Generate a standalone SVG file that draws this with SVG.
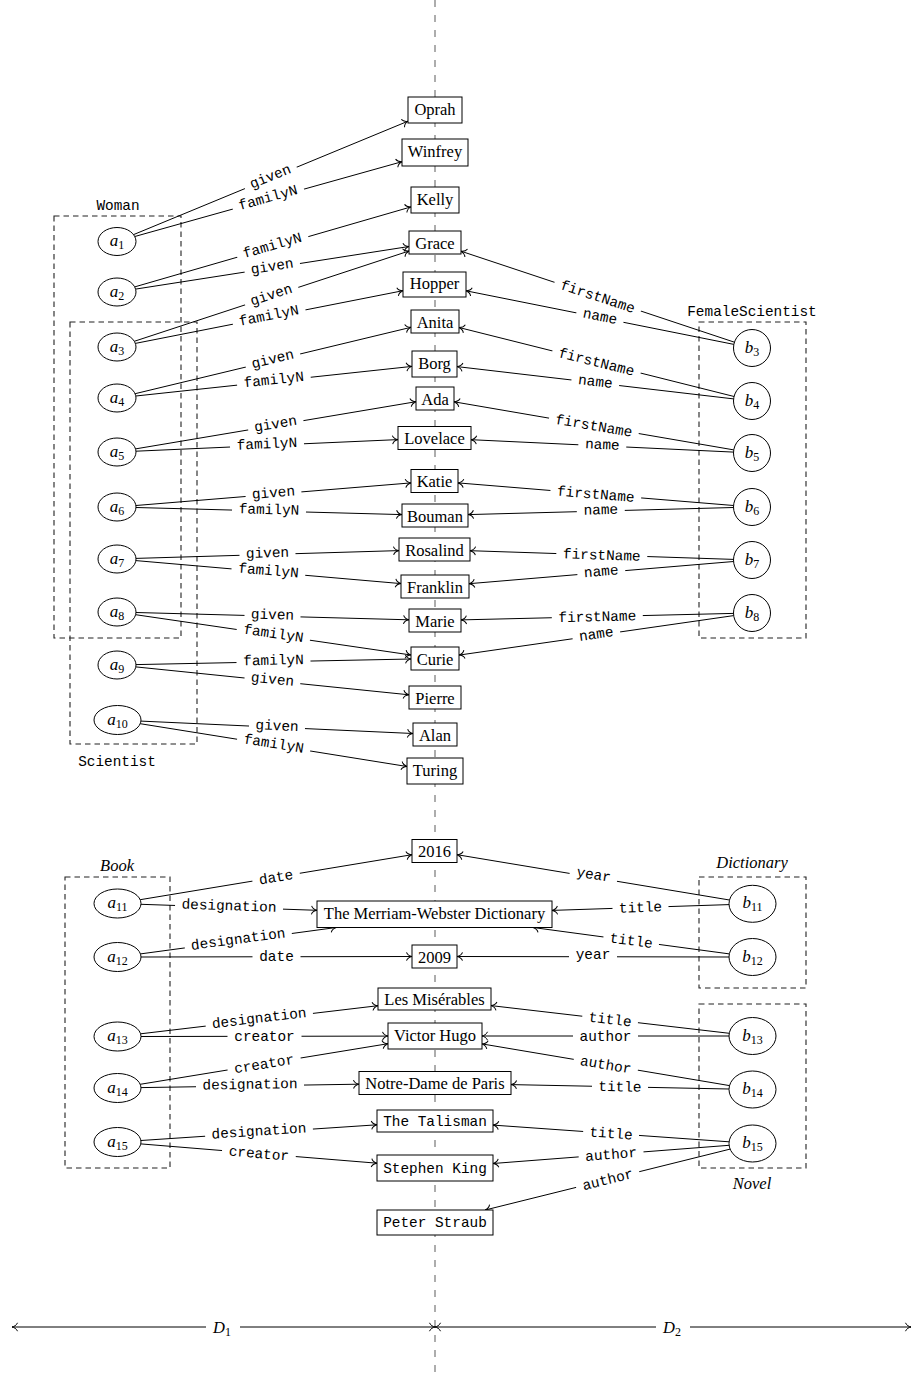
<svg xmlns="http://www.w3.org/2000/svg" width="914" height="1380" viewBox="0 0 914 1380">
<defs>
<marker id="to" viewBox="-8 -6 10 12" refX="0" refY="0" markerWidth="10" markerHeight="12" markerUnits="userSpaceOnUse" orient="auto-start-reverse">
<path d="M-5.5,-4.2 C-4.6,-1.6 -1.8,-0.4 0,0 C-1.8,0.4 -4.6,1.6 -5.5,4.2" fill="none" stroke="#000" stroke-width="1"/>
</marker>
<style>
.bx rect{fill:#fff;stroke:#000;stroke-width:1}
.bx text{font-family:"Liberation Serif",serif;font-size:16.5px;text-anchor:middle;fill:#000}
.bx text.tt{font-family:"Liberation Mono",monospace;font-size:14.4px}
.nd ellipse{fill:#fff;stroke:#000;stroke-width:1}
.nd text{font-family:"Liberation Serif",serif;font-style:italic;font-size:17px;text-anchor:middle}
.s{font-style:normal;font-size:12px}
.ed line{stroke:#000;stroke-width:1;fill:none;marker-end:url(#to)}
.lb rect{fill:#fff}
.lb text{font-family:"Liberation Mono",monospace;font-size:14.4px;text-anchor:middle}
.gr rect{fill:none;stroke:#222;stroke-width:1.1;stroke-dasharray:5.5 4}
.gr text{font-family:"Liberation Mono",monospace;font-size:14.4px;text-anchor:middle}
.gr text.it{font-family:"Liberation Serif",serif;font-style:italic;font-size:16.5px}
.axis line{stroke:#000;stroke-width:1;marker-start:url(#to);marker-end:url(#to)}
.axis text{font-family:"Liberation Serif",serif;font-style:italic;font-size:16.5px;text-anchor:middle}
</style>
</defs>
<rect width="914" height="1380" fill="#fff"/>
<line id="divider" x1="435" y1="0" x2="435" y2="1380" stroke="#777" stroke-width="1.2" stroke-dasharray="7 8"/>

<g id="groups" class="gr">
<g id="g-woman"><rect x="54" y="216" width="127" height="422"/><text x="118" y="210">Woman</text></g>
<g id="g-scientist"><rect x="70" y="322" width="127" height="422"/><text x="117" y="766">Scientist</text></g>
<g id="g-femalescientist"><rect x="699" y="322" width="107" height="316"/><text x="752" y="316">FemaleScientist</text></g>
<g id="g-book"><rect x="65" y="877" width="105" height="291"/><text class="it" x="117" y="871">Book</text></g>
<g id="g-dictionary"><rect x="699" y="877" width="107" height="111"/><text class="it" x="752" y="868">Dictionary</text></g>
<g id="g-novel"><rect x="699" y="1004" width="107" height="164"/><text class="it" x="752" y="1189">Novel</text></g>
</g>

<g id="connectors">
<g class="ed">
<line x1="133.6" y1="234.6" x2="408" y2="121.2"/>
<line x1="134.8" y1="236.5" x2="402" y2="161.7"/>
<line x1="134.7" y1="286.9" x2="411" y2="206.9"/>
<line x1="135.6" y1="289.1" x2="409" y2="246.5"/>
<line x1="134.3" y1="341.3" x2="409" y2="251"/>
<line x1="135.4" y1="343.4" x2="403" y2="290.7"/>
<line x1="135.1" y1="393.7" x2="411" y2="327.3"/>
<line x1="135.8" y1="396" x2="412" y2="366.4"/>
<line x1="135.5" y1="448.9" x2="416" y2="401.7"/>
<line x1="136" y1="451.2" x2="398" y2="439.6"/>
<line x1="135.9" y1="505.5" x2="411" y2="482.9"/>
<line x1="136" y1="507.5" x2="402" y2="514.6"/>
<line x1="136" y1="558.4" x2="399" y2="550.6"/>
<line x1="135.9" y1="560.6" x2="401" y2="583.6"/>
<line x1="136" y1="612.5" x2="409" y2="619.8"/>
<line x1="135.6" y1="614.7" x2="411" y2="655"/>
<line x1="136" y1="664.6" x2="411" y2="659"/>
<line x1="135.8" y1="666.9" x2="409" y2="694.8"/>
<line x1="140.9" y1="721.1" x2="413" y2="733.5"/>
<line x1="140.2" y1="723.7" x2="407" y2="766.5"/>
<line x1="734.4" y1="342.2" x2="461" y2="251.2"/>
<line x1="733.9" y1="344.4" x2="466" y2="290.8"/>
<line x1="734.1" y1="396.5" x2="459" y2="327.5"/>
<line x1="733.6" y1="398.9" x2="457" y2="366.6"/>
<line x1="733.8" y1="449.9" x2="454" y2="401.8"/>
<line x1="733.5" y1="452.1" x2="471" y2="439.7"/>
<line x1="733.6" y1="505.5" x2="458" y2="482.9"/>
<line x1="733.5" y1="507.5" x2="468" y2="514.6"/>
<line x1="733.5" y1="559.4" x2="470" y2="550.7"/>
<line x1="733.6" y1="561.5" x2="469" y2="583.7"/>
<line x1="733.5" y1="613.4" x2="461" y2="619.9"/>
<line x1="733.7" y1="615.6" x2="459" y2="655.1"/>
<line x1="140.2" y1="899.7" x2="412" y2="854.7"/>
<line x1="141" y1="904.3" x2="317" y2="910.3"/>
<line x1="140.5" y1="953.9" x2="336.2" y2="927.5"/>
<line x1="141" y1="957" x2="412" y2="956.5"/>
<line x1="140.6" y1="1033.8" x2="378" y2="1005.7"/>
<line x1="141" y1="1036.5" x2="388" y2="1036.1"/>
<line x1="140.2" y1="1084.3" x2="388" y2="1043.7"/>
<line x1="141" y1="1087.6" x2="359" y2="1084.2"/>
<line x1="140.9" y1="1140.5" x2="377" y2="1124.8"/>
<line x1="140.8" y1="1143.9" x2="377" y2="1163.2"/>
<line x1="729.5" y1="900" x2="457" y2="854.7"/>
<line x1="729" y1="904.6" x2="552" y2="910.4"/>
<line x1="729.3" y1="953.9" x2="533.1" y2="927.5"/>
<line x1="729" y1="957" x2="457" y2="956.5"/>
<line x1="729.3" y1="1033.3" x2="491" y2="1005.6"/>
<line x1="729" y1="1036" x2="482" y2="1036"/>
<line x1="729.5" y1="1085.6" x2="482" y2="1043.9"/>
<line x1="729" y1="1089" x2="511" y2="1084.6"/>
<line x1="729.1" y1="1141.8" x2="493" y2="1125.1"/>
<line x1="729.1" y1="1145.3" x2="493" y2="1163.5"/>
<line x1="730.1" y1="1149.1" x2="485.2" y2="1210"/>
</g>
<g class="lb">
<g transform="translate(270.8 177.9) rotate(-22.47)"><rect x="-28" y="-7.5" width="56" height="15"/><text y="2.9">given</text></g>
<g transform="translate(268.4 199.1) rotate(-15.64)"><rect x="-37" y="-7.5" width="74" height="15"/><text y="2.9">familyN</text></g>
<g transform="translate(272.8 246.9) rotate(-16.13)"><rect x="-37" y="-7.5" width="74" height="15"/><text y="2.9">familyN</text></g>
<g transform="translate(272.3 267.8) rotate(-8.85)"><rect x="-28" y="-7.5" width="56" height="15"/><text y="2.9">given</text></g>
<g transform="translate(271.7 296.2) rotate(-18.19)"><rect x="-28" y="-7.5" width="56" height="15"/><text y="2.9">given</text></g>
<g transform="translate(269.2 317.1) rotate(-11.14)"><rect x="-37" y="-7.5" width="74" height="15"/><text y="2.9">familyN</text></g>
<g transform="translate(273 360.5) rotate(-13.53)"><rect x="-28" y="-7.5" width="56" height="15"/><text y="2.9">given</text></g>
<g transform="translate(273.9 381.2) rotate(-6.11)"><rect x="-37" y="-7.5" width="74" height="15"/><text y="2.9">familyN</text></g>
<g transform="translate(275.8 425.3) rotate(-9.55)"><rect x="-28" y="-7.5" width="56" height="15"/><text y="2.9">given</text></g>
<g transform="translate(267 445.4) rotate(-2.52)"><rect x="-37" y="-7.5" width="74" height="15"/><text y="2.9">familyN</text></g>
<g transform="translate(273.5 494.2) rotate(-4.68)"><rect x="-28" y="-7.5" width="56" height="15"/><text y="2.9">given</text></g>
<g transform="translate(269 511.1) rotate(1.53)"><rect x="-37" y="-7.5" width="74" height="15"/><text y="2.9">familyN</text></g>
<g transform="translate(267.5 554.5) rotate(-1.71)"><rect x="-28" y="-7.5" width="56" height="15"/><text y="2.9">given</text></g>
<g transform="translate(268.4 572.1) rotate(4.94)"><rect x="-37" y="-7.5" width="74" height="15"/><text y="2.9">familyN</text></g>
<g transform="translate(272.5 616.2) rotate(1.53)"><rect x="-28" y="-7.5" width="56" height="15"/><text y="2.9">given</text></g>
<g transform="translate(273.3 634.9) rotate(8.32)"><rect x="-37" y="-7.5" width="74" height="15"/><text y="2.9">familyN</text></g>
<g transform="translate(273.5 661.8) rotate(-1.17)"><rect x="-37" y="-7.5" width="74" height="15"/><text y="2.9">familyN</text></g>
<g transform="translate(272.4 680.9) rotate(5.84)"><rect x="-28" y="-7.5" width="56" height="15"/><text y="2.9">given</text></g>
<g transform="translate(277 727.3) rotate(2.61)"><rect x="-28" y="-7.5" width="56" height="15"/><text y="2.9">given</text></g>
<g transform="translate(273.6 745.1) rotate(9.13)"><rect x="-37" y="-7.5" width="74" height="15"/><text y="2.9">familyN</text></g>
<g transform="translate(597.7 296.7) rotate(18.41)"><rect x="-45.5" y="-7.5" width="91" height="15"/><text y="4.5">firstName</text></g>
<g transform="translate(599.9 317.6) rotate(11.31)"><rect x="-24" y="-7.5" width="48" height="15"/><text y="3.2">name</text></g>
<g transform="translate(596.5 362) rotate(14.08)"><rect x="-45.5" y="-7.5" width="91" height="15"/><text y="4.5">firstName</text></g>
<g transform="translate(595.3 382.7) rotate(6.65)"><rect x="-24" y="-7.5" width="48" height="15"/><text y="3.2">name</text></g>
<g transform="translate(593.9 425.8) rotate(9.76)"><rect x="-45.5" y="-7.5" width="91" height="15"/><text y="4.5">firstName</text></g>
<g transform="translate(602.3 445.9) rotate(2.7)"><rect x="-24" y="-7.5" width="48" height="15"/><text y="3.2">name</text></g>
<g transform="translate(595.8 494.2) rotate(4.68)"><rect x="-45.5" y="-7.5" width="91" height="15"/><text y="4.5">firstName</text></g>
<g transform="translate(600.8 511.1) rotate(-1.54)"><rect x="-24" y="-7.5" width="48" height="15"/><text y="3.2">name</text></g>
<g transform="translate(601.8 555.1) rotate(1.89)"><rect x="-45.5" y="-7.5" width="91" height="15"/><text y="4.5">firstName</text></g>
<g transform="translate(601.3 572.6) rotate(-4.78)"><rect x="-24" y="-7.5" width="48" height="15"/><text y="3.2">name</text></g>
<g transform="translate(597.3 616.7) rotate(-1.36)"><rect x="-45.5" y="-7.5" width="91" height="15"/><text y="4.5">firstName</text></g>
<g transform="translate(596.4 635.4) rotate(-8.17)"><rect x="-24" y="-7.5" width="48" height="15"/><text y="3.2">name</text></g>
<g transform="translate(276.1 877.2) rotate(-9.4)"><rect x="-24" y="-7.5" width="48" height="15"/><text y="4.5">date</text></g>
<g transform="translate(229 907.3) rotate(1.94)"><rect x="-54" y="-7.5" width="108" height="15"/><text y="2.9">designation</text></g>
<g transform="translate(238.3 940.7) rotate(-7.68)"><rect x="-54" y="-7.5" width="108" height="15"/><text y="2.9">designation</text></g>
<g transform="translate(276.5 956.8)"><rect x="-24" y="-7.5" width="48" height="15"/><text y="4.5">date</text></g>
<g transform="translate(259.3 1019.7) rotate(-6.75)"><rect x="-54" y="-7.5" width="108" height="15"/><text y="2.9">designation</text></g>
<g transform="translate(264.5 1036.3)"><rect x="-37" y="-7.5" width="74" height="15"/><text y="4.5">creator</text></g>
<g transform="translate(264.1 1064) rotate(-9.3)"><rect x="-37" y="-7.5" width="74" height="15"/><text y="4.5">creator</text></g>
<g transform="translate(250 1085.9) rotate(-0.9)"><rect x="-54" y="-7.5" width="108" height="15"/><text y="2.9">designation</text></g>
<g transform="translate(259 1132.6) rotate(-3.78)"><rect x="-54" y="-7.5" width="108" height="15"/><text y="2.9">designation</text></g>
<g transform="translate(258.9 1153.6) rotate(4.68)"><rect x="-37" y="-7.5" width="74" height="15"/><text y="4.5">creator</text></g>
<g transform="translate(593.3 877.4) rotate(9.43)"><rect x="-24" y="-7.5" width="48" height="15"/><text y="1.7">year</text></g>
<g transform="translate(640.5 907.5) rotate(-1.88)"><rect x="-28" y="-7.5" width="56" height="15"/><text y="4.5">title</text></g>
<g transform="translate(631.2 940.7) rotate(7.66)"><rect x="-28" y="-7.5" width="56" height="15"/><text y="4.5">title</text></g>
<g transform="translate(593 956.8)"><rect x="-24" y="-7.5" width="48" height="15"/><text y="1.7">year</text></g>
<g transform="translate(610.1 1019.5) rotate(6.64)"><rect x="-28" y="-7.5" width="56" height="15"/><text y="4.5">title</text></g>
<g transform="translate(605.5 1036)"><rect x="-32.5" y="-7.5" width="65" height="15"/><text y="4.5">author</text></g>
<g transform="translate(605.8 1064.8) rotate(9.56)"><rect x="-32.5" y="-7.5" width="65" height="15"/><text y="4.5">author</text></g>
<g transform="translate(620 1086.8) rotate(1.17)"><rect x="-28" y="-7.5" width="56" height="15"/><text y="4.5">title</text></g>
<g transform="translate(611.1 1133.5) rotate(4.05)"><rect x="-28" y="-7.5" width="56" height="15"/><text y="4.5">title</text></g>
<g transform="translate(611.1 1154.4) rotate(-4.41)"><rect x="-32.5" y="-7.5" width="65" height="15"/><text y="4.5">author</text></g>
<g transform="translate(607.7 1179.6) rotate(-13.97)"><rect x="-32.5" y="-7.5" width="65" height="15"/><text y="4.5">author</text></g>
</g>
</g>

<g id="values" class="bx">
<g id="n-oprah"><rect x="408" y="97" width="54" height="26"/><text x="435" y="114.5">Oprah</text></g>
<g id="n-winfrey"><rect x="402" y="139" width="66" height="27"/><text x="435" y="157">Winfrey</text></g>
<g id="n-kelly"><rect x="411" y="187" width="48" height="26"/><text x="435" y="204.5">Kelly</text></g>
<g id="n-grace"><rect x="409" y="231" width="52" height="23"/><text x="435" y="248.5">Grace</text></g>
<g id="n-hopper"><rect x="403" y="272" width="63" height="25"/><text x="434.5" y="289">Hopper</text></g>
<g id="n-anita"><rect x="411" y="310" width="48" height="23"/><text x="435" y="327.5">Anita</text></g>
<g id="n-borg"><rect x="412" y="351" width="45" height="26"/><text x="434.5" y="368.5">Borg</text></g>
<g id="n-ada"><rect x="416" y="387" width="38" height="23"/><text x="435" y="404.5">Ada</text></g>
<g id="n-lovelace"><rect x="398" y="426.5" width="73" height="23"/><text x="434.5" y="444">Lovelace</text></g>
<g id="n-katie"><rect x="411" y="469.5" width="47" height="23"/><text x="434.5" y="487">Katie</text></g>
<g id="n-bouman"><rect x="402" y="504" width="66" height="23"/><text x="435" y="521.5">Bouman</text></g>
<g id="n-rosalind"><rect x="399" y="538" width="71" height="23"/><text x="434.5" y="555.5">Rosalind</text></g>
<g id="n-franklin"><rect x="401" y="575" width="68" height="23"/><text x="435" y="592.5">Franklin</text></g>
<g id="n-marie"><rect x="409" y="609" width="52" height="23"/><text x="435" y="626.5">Marie</text></g>
<g id="n-curie"><rect x="411" y="647" width="48" height="23"/><text x="435" y="664.5">Curie</text></g>
<g id="n-pierre"><rect x="409" y="686" width="52" height="23"/><text x="435" y="703.5">Pierre</text></g>
<g id="n-alan"><rect x="413" y="723" width="44" height="23"/><text x="435" y="740.5">Alan</text></g>
<g id="n-turing"><rect x="407" y="758" width="56" height="26"/><text x="435" y="775.5">Turing</text></g>
<g id="n-2016"><rect x="412" y="839.5" width="45" height="23"/><text x="434.5" y="857">2016</text></g>
<g id="n-mw"><rect x="317" y="901" width="235" height="26.5"/><text x="434.5" y="918.5">The Merriam-Webster Dictionary</text></g>
<g id="n-2009"><rect x="412" y="945" width="45" height="23"/><text x="434.5" y="962.5">2009</text></g>
<g id="n-lesmis"><rect x="378" y="988" width="113" height="22"/><text x="434.5" y="1005">Les Misérables</text></g>
<g id="n-hugo"><rect x="388" y="1023" width="94" height="26"/><text x="435" y="1040.5">Victor Hugo</text></g>
<g id="n-notredame"><rect x="359" y="1071.5" width="152" height="23"/><text x="435" y="1089">Notre-Dame de Paris</text></g>
<g id="n-talisman"><rect x="377" y="1110" width="116" height="22"/><text class="tt" x="435" y="1125.7">The Talisman</text></g>
<g id="n-king"><rect x="377" y="1155" width="116" height="26"/><text class="tt" x="435" y="1172.7">Stephen King</text></g>
<g id="n-straub"><rect x="377" y="1210" width="116" height="25"/><text class="tt" x="435" y="1226.7">Peter Straub</text></g>
</g>

<g id="entities" class="nd">
<g id="a1"><ellipse cx="117" cy="241.5" rx="19" ry="14"/><text x="117" y="246">a<tspan class="s" dy="3">1</tspan></text></g>
<g id="a2"><ellipse cx="117" cy="292" rx="19" ry="14"/><text x="117" y="296.5">a<tspan class="s" dy="3">2</tspan></text></g>
<g id="a3"><ellipse cx="117" cy="347" rx="19" ry="14"/><text x="117" y="351.5">a<tspan class="s" dy="3">3</tspan></text></g>
<g id="a4"><ellipse cx="117" cy="398" rx="19" ry="14"/><text x="117" y="402.5">a<tspan class="s" dy="3">4</tspan></text></g>
<g id="a5"><ellipse cx="117" cy="452" rx="19" ry="14"/><text x="117" y="456.5">a<tspan class="s" dy="3">5</tspan></text></g>
<g id="a6"><ellipse cx="117" cy="507" rx="19" ry="14"/><text x="117" y="511.5">a<tspan class="s" dy="3">6</tspan></text></g>
<g id="a7"><ellipse cx="117" cy="559" rx="19" ry="14"/><text x="117" y="563.5">a<tspan class="s" dy="3">7</tspan></text></g>
<g id="a8"><ellipse cx="117" cy="612" rx="19" ry="14"/><text x="117" y="616.5">a<tspan class="s" dy="3">8</tspan></text></g>
<g id="a9"><ellipse cx="117" cy="665" rx="19" ry="14"/><text x="117" y="669.5">a<tspan class="s" dy="3">9</tspan></text></g>
<g id="a10"><ellipse cx="117.5" cy="720" rx="23.5" ry="14.5"/><text x="117.5" y="724.5">a<tspan class="s" dy="3">10</tspan></text></g>
<g id="a11"><ellipse cx="117.5" cy="903.5" rx="23.5" ry="14.5"/><text x="117.5" y="908">a<tspan class="s" dy="3">11</tspan></text></g>
<g id="a12"><ellipse cx="117.5" cy="957" rx="23.5" ry="14.5"/><text x="117.5" y="961.5">a<tspan class="s" dy="3">12</tspan></text></g>
<g id="a13"><ellipse cx="117.5" cy="1036.5" rx="23.5" ry="14.5"/><text x="117.5" y="1041">a<tspan class="s" dy="3">13</tspan></text></g>
<g id="a14"><ellipse cx="117.5" cy="1088" rx="23.5" ry="14.5"/><text x="117.5" y="1092.5">a<tspan class="s" dy="3">14</tspan></text></g>
<g id="a15"><ellipse cx="117.5" cy="1142" rx="23.5" ry="14.5"/><text x="117.5" y="1146.5">a<tspan class="s" dy="3">15</tspan></text></g>
<g id="b3"><ellipse cx="752" cy="348" rx="18.5" ry="18.5"/><text x="752" y="352.5">b<tspan class="s" dy="3">3</tspan></text></g>
<g id="b4"><ellipse cx="752" cy="401" rx="18.5" ry="18.5"/><text x="752" y="405.5">b<tspan class="s" dy="3">4</tspan></text></g>
<g id="b5"><ellipse cx="752" cy="453" rx="18.5" ry="18.5"/><text x="752" y="457.5">b<tspan class="s" dy="3">5</tspan></text></g>
<g id="b6"><ellipse cx="752" cy="507" rx="18.5" ry="18.5"/><text x="752" y="511.5">b<tspan class="s" dy="3">6</tspan></text></g>
<g id="b7"><ellipse cx="752" cy="560" rx="18.5" ry="18.5"/><text x="752" y="564.5">b<tspan class="s" dy="3">7</tspan></text></g>
<g id="b8"><ellipse cx="752" cy="613" rx="18.5" ry="18.5"/><text x="752" y="617.5">b<tspan class="s" dy="3">8</tspan></text></g>
<g id="b11"><ellipse cx="752.5" cy="903.8" rx="23.5" ry="18.5"/><text x="752.5" y="908.3">b<tspan class="s" dy="3">11</tspan></text></g>
<g id="b12"><ellipse cx="752.5" cy="957" rx="23.5" ry="18.5"/><text x="752.5" y="961.5">b<tspan class="s" dy="3">12</tspan></text></g>
<g id="b13"><ellipse cx="752.5" cy="1036" rx="23.5" ry="18.5"/><text x="752.5" y="1040.5">b<tspan class="s" dy="3">13</tspan></text></g>
<g id="b14"><ellipse cx="752.5" cy="1089.5" rx="23.5" ry="18.5"/><text x="752.5" y="1094">b<tspan class="s" dy="3">14</tspan></text></g>
<g id="b15"><ellipse cx="752.5" cy="1143.5" rx="23.5" ry="18.5"/><text x="752.5" y="1148">b<tspan class="s" dy="3">15</tspan></text></g>
</g>

<g id="axis" class="axis">
<line x1="12" y1="1327" x2="435" y2="1327"/>
<line x1="435" y1="1327" x2="911" y2="1327"/>
<rect x="206" y="1317" width="34" height="20" fill="#fff"/>
<rect x="656" y="1317" width="34" height="20" fill="#fff"/>
<text x="222" y="1332.5">D<tspan class="s" dy="3">1</tspan></text>
<text x="672" y="1332.5">D<tspan class="s" dy="3">2</tspan></text>
</g>
</svg>
